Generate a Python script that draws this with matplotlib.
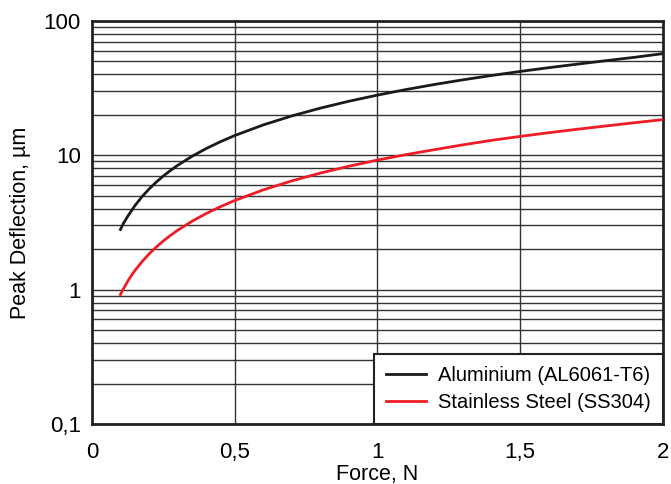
import matplotlib.pyplot as plt
from matplotlib.ticker import FixedLocator, FixedFormatter, LogLocator, NullFormatter

plt.rcParams['font.family'] = ['Liberation Sans', 'DejaVu Sans']

# Valores
fuerza = [0.1, 0.11, 0.125, 0.14, 0.15, 0.175, 0.2, 0.225, 0.25, 0.275, 0.3,
          0.35, 0.4, 0.45, 0.5, 0.6, 0.7, 0.8, 0.9, 1.0, 1.1, 1.2, 1.3, 1.4,
          1.5, 1.6, 1.7, 1.8, 1.9, 2.0]
aluminio = [2.8, 3.1, 3.5, 3.9, 4.2, 4.9, 5.6, 6.3, 7.0, 7.7, 8.4, 9.8, 11.2,
            12.6, 14.0, 16.8, 19.6, 22.4, 25.2, 28.0, 30.8, 33.6, 36.4, 39.2,
            42.0, 44.8, 47.6, 50.5, 53.5, 57.0]
acero = [0.92, 1.01, 1.15, 1.29, 1.38, 1.61, 1.84, 2.07, 2.3, 2.53, 2.76,
         3.22, 3.68, 4.14, 4.6, 5.52, 6.44, 7.36, 8.28, 9.2, 10.1, 11.0, 11.95,
         12.9, 13.8, 14.7, 15.6, 16.5, 17.45, 18.4]

x_ticks = [0, 0.5, 1, 1.5, 2]
x_labels = ["0", "0,5", "1", "1,5", "2"]
y_ticks = [0.1, 1, 10, 100]
y_labels = ["0,1", "1", "10", "100"]

fig = plt.figure(figsize=(6.71, 4.84), dpi=100)
ax = fig.add_axes([0.137, 0.124, 0.851, 0.833])

ax.plot(fuerza, aluminio, color="#1a1a1a", lw=2.0,
        label="Aluminium (AL6061-T6)", zorder=3)
ax.plot(fuerza, acero, color="#ee1c25", lw=2.0,
        label="Stainless Steel (SS304)", zorder=3)

ax.set_yscale("log")
ax.set_xlim(0, 2)
ax.set_ylim(0.1, 100)

ax.xaxis.set_major_locator(FixedLocator(x_ticks))
ax.xaxis.set_major_formatter(FixedFormatter(x_labels))
ax.yaxis.set_major_locator(FixedLocator(y_ticks))
ax.yaxis.set_major_formatter(FixedFormatter(y_labels))
ax.yaxis.set_minor_locator(LogLocator(base=10, subs=range(2, 10)))
ax.yaxis.set_minor_formatter(NullFormatter())

ax.grid(True, which="both", axis="y", color="#333333", lw=1.0)
ax.grid(True, which="major", axis="x", color="#333333", lw=1.0)
ax.tick_params(which="both", length=0, labelsize=16)
ax.tick_params(axis="x", pad=13)
ax.tick_params(axis="y", pad=8)

for s in ax.spines.values():
    s.set_linewidth(2.0)
    s.set_color("#222222")

ax.set_xlabel("Force, N", fontsize=15.5, labelpad=1)
ax.set_ylabel("Peak Deflection, µm", fontsize=15.5, labelpad=9)

leg = ax.legend(loc="lower right", fontsize=14.5, fancybox=False,
                framealpha=1, edgecolor="#222222", borderaxespad=0,
                handlelength=2.0, handletextpad=0.6, borderpad=0.6,
                labelspacing=0.4)
leg.get_frame().set_linewidth(1.5)

fig.savefig("out.png", dpi=100)
